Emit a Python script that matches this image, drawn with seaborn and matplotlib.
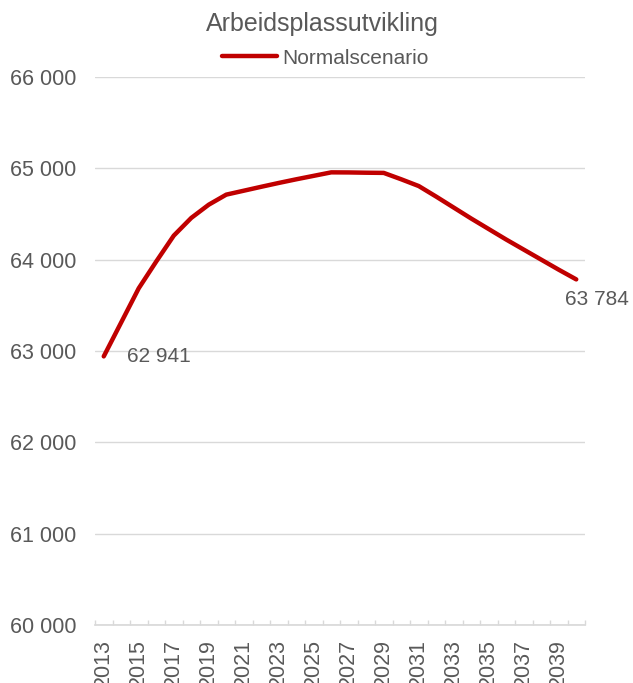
import matplotlib
matplotlib.use("Agg")
import matplotlib.pyplot as plt
import matplotlib.ticker as mticker
import seaborn as sns
import pandas as pd

years = list(range(2013, 2041))
values = [62941, 63314, 63687, 63980, 64263, 64457, 64602, 64712, 64755, 64798,
          64840, 64880, 64918, 64956, 64955, 64952, 64950, 64880, 64806, 64690,
          64570, 64450, 64335, 64220, 64110, 64000, 63890, 63784]
series_name = "Normalscenario"
title = "Arbeidsplassutvikling"

df = pd.DataFrame({"År": years, "Arbeidsplasser": values, "Scenario": series_name})

sns.set_theme(style="white")
plt.rcParams['font.family'] = ['Liberation Sans', 'DejaVu Sans']
grey = "#595959"

fig = plt.figure(figsize=(6.33, 6.83), dpi=100)
ax = fig.add_axes([95/633, 1-625/683, 490/633, 548/683])

sns.lineplot(data=df, x="År", y="Arbeidsplasser", hue="Scenario",
             palette=["#C00000"], linewidth=3.2, ax=ax, legend=True)

ax.set_xlim(2012.5, 2040.5)
ax.set_ylim(60000, 66000)
ax.yaxis.set_major_locator(mticker.MultipleLocator(1000))
ax.yaxis.set_major_formatter(mticker.FuncFormatter(lambda v, p: f"{int(v):,}".replace(",", " ")))
ax.grid(axis="y", color="#d9d9d9", linewidth=1)
ax.set_axisbelow(True)

ax.set_xticks(years[::2])
ax.set_xticklabels([str(y) for y in years[::2]], rotation=90, va="top")
ax.set_xticks([y - 0.5 for y in years] + [2040.5], minor=True)
ax.tick_params(axis="x", which="major", length=0, pad=10, labelsize=15.5, labelcolor=grey)
ax.tick_params(axis="x", which="minor", length=3.5, color="#d9d9d9", width=1,
               bottom=True, direction="in")
ax.tick_params(axis="y", length=0, labelsize=15.5, labelcolor=grey, pad=13.5)

for s in ["top", "right", "left"]:
    ax.spines[s].set_visible(False)
ax.spines["bottom"].set_color("#d9d9d9")
ax.set_xlabel("")
ax.set_ylabel("")

def fmt(v):
    return f"{v:,}".replace(",", " ")

ax.annotate(fmt(values[0]), xy=(years[0], values[0]), xytext=(23, 0),
            textcoords="offset pixels", ha="left", va="center", fontsize=15, color=grey)
ax.annotate(fmt(values[-1]), xy=(years[-1], values[-1]), xytext=(21, -20),
            textcoords="offset pixels", ha="center", va="center", fontsize=15, color=grey)

leg = ax.legend(loc="center", bbox_to_anchor=(325/633, 1-58/683),
                bbox_transform=fig.transFigure, frameon=False,
                fontsize=15, handlelength=2.65, handletextpad=0.25, borderaxespad=0)
for t in leg.get_texts():
    t.set_color(grey)
for l in leg.get_lines():
    l.set_linewidth(3.2)

fig.text(322/633, 1-24/683, title, ha="center", va="center", fontsize=18, color=grey)

fig.savefig("out.png", dpi=100)
